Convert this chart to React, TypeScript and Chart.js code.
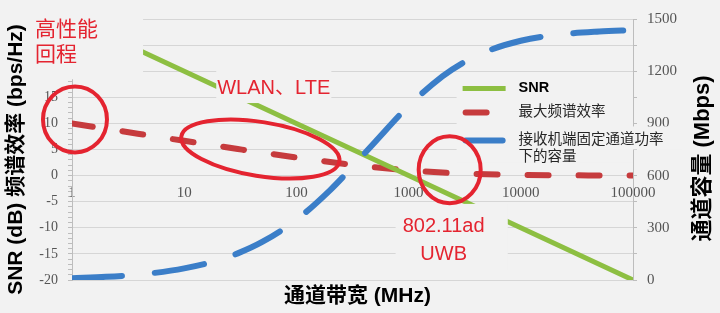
import React, { useEffect, useRef } from 'react';
import { Chart, registerables } from 'chart.js';

Chart.register(...registerables);

// ---------- data ----------
const bandwidthMHz = [1, 2, 3, 5, 10, 20, 30, 50, 100, 200, 300, 500, 1000, 2000, 3000, 5000, 10000, 20000, 50000, 100000];
const spectralEfficiency = [9.97, 8.97, 8.39, 7.65, 6.66, 5.67, 5.1, 4.39, 3.46, 2.59, 2.12, 1.58, 1.0, 0.58, 0.42, 0.26, 0.14, 0.07, 0.03, 0.01];
const capacityMbps = [10, 18, 25, 38, 67, 113, 153, 220, 346, 517, 635, 792, 1000, 1170, 1245, 1315, 1375, 1408, 1428, 1436];
const snrBandwidthMHz = [1, 10, 100, 1000, 10000, 100000];
const snrDb = [30, 20, 10, 0, -10, -20];

const xTickValues = [1, 10, 100, 1000, 10000, 100000];
const leftTickLabels = [-20, -15, -10, -5, 0, 5, 10, 15];
const rightTickLabels = [0, 300, 600, 900, 1200, 1500];

const seriesNames = ['SNR', '最大频谱效率', '接收机端固定通道功率\n下的容量'];
const leftTitle = 'SNR (dB) 频谱效率 (bps/Hz)';
const rightTitle = '通道容量 (Mbps)';
const bottomTitle = '通道带宽 (MHz)';

// annotations (data coordinates: bandwidth MHz, dB on left axis)
const noteTexts = [
  { bw: 0.467, db: 26.8, lines: ['高性能', '回程'], align: 'left' as CanvasTextAlign, size: 21, lh: 25 },
  { bw: 19.7, db: 15.6, lines: ['WLAN、LTE'], align: 'left' as CanvasTextAlign, size: 20, lh: 28 },
  { bw: 2053, db: -10.9, lines: ['802.11ad', 'UWB'], align: 'center' as CanvasTextAlign, size: 20, lh: 28 },
];
const noteBoxes = [
  { bw: [0.422, 4.3], db: [33.0, 18.45] },
  { bw: [19.3, 205], db: [20.5, 13.9] },
  { bw: [766, 7656], db: [-5.42, -18.1] },
];
const noteEllipses = [
  { bw: 1.063, db: 10.77, rx: 32, ry: 33, rot: 0 },
  { bw: 47.7, db: 5.09, rx: 80, ry: 27, rot: 9 },
  { bw: 2323, db: 1.12, rx: 31, ry: 33.5, rot: 0 },
];
const legendAnchor = { bw: 3030, db: 16.7 };

// ---------- styles ----------
const BG = '#f2f2f2';
const GRID = '#d6d6d6';
const AXIS = '#bdbdbd';
const TICK = '#555555';
const GREEN = '#8dbf42';
const RED = '#c63b3d';
const BLUE = '#3b7ec8';
const MARK = '#e42430';
const SANS = '"Liberation Sans", "Noto Sans CJK SC", sans-serif';
const SERIF = '"Liberation Serif", serif';

const overlayPlugin = {
  id: 'overlayNotes',
  afterDatasetsDraw(chart: any) {
    const ctx: CanvasRenderingContext2D = chart.ctx;
    const xs = chart.scales.x;
    const ys = chart.scales.y;
    const px = (v: number) => xs.getPixelForValue(v);
    const py = (v: number) => ys.getPixelForValue(v);
    const area = chart.chartArea;
    ctx.save();

    // text boxes (cover lines behind)
    ctx.fillStyle = BG;
    for (const b of noteBoxes) {
      const x0 = px(b.bw[0]);
      const x1 = px(b.bw[1]);
      const y0 = py(b.db[0]);
      const y1 = py(b.db[1]);
      ctx.fillRect(x0, y0, x1 - x0, y1 - y0);
    }

    // legend
    const lx = px(legendAnchor.bw);
    const ly = py(legendAnchor.db);
    ctx.fillStyle = BG;
    ctx.fillRect(lx - 6, ly - 12, area.right - (lx - 6), 86);
    ctx.fillRect(lx + 53, ly + 38, 167, 23);
    const rowOffsets = [0, 24, 52];
    chart.data.datasets.forEach((ds: any, i: number) => {
      const y = ly + rowOffsets[i];
      ctx.save();
      ctx.beginPath();
      ctx.strokeStyle = ds.borderColor;
      ctx.lineWidth = ds.borderWidth;
      ctx.lineCap = ds.borderCapStyle || 'butt';
      ctx.setLineDash(ds.borderDash || []);
      ctx.moveTo(lx + (ds.borderCapStyle === 'round' ? 3 : 0), y);
      ctx.lineTo(lx + 43 - (ds.borderCapStyle === 'round' ? 3 : 0), y);
      ctx.stroke();
      ctx.restore();
      const lines = String(ds.label).split('\n');
      ctx.textBaseline = 'middle';
      ctx.textAlign = 'left';
      ctx.fillStyle = i === 0 ? '#000000' : '#262626';
      ctx.font = (i === 0 ? 'bold ' : '') + '14.5px ' + SANS;
      lines.forEach((t, k) => ctx.fillText(t, lx + 56, y + k * 17));
    });

    // annotation texts
    ctx.fillStyle = MARK;
    ctx.textBaseline = 'alphabetic';
    for (const n of noteTexts) {
      ctx.font = n.size + 'px ' + SANS;
      ctx.textAlign = n.align;
      n.lines.forEach((t, k) => ctx.fillText(t, px(n.bw), py(n.db) + k * n.lh));
    }

    // ellipses
    ctx.strokeStyle = MARK;
    ctx.lineWidth = 4;
    for (const e of noteEllipses) {
      ctx.beginPath();
      ctx.ellipse(px(e.bw), py(e.db), e.rx, e.ry, (e.rot * Math.PI) / 180, 0, Math.PI * 2);
      ctx.stroke();
    }
    ctx.restore();
  },
  afterDraw(chart: any) {
    const ctx: CanvasRenderingContext2D = chart.ctx;
    const area = chart.chartArea;
    const midY = (area.top + area.bottom) / 2 + 10;
    ctx.save();
    ctx.fillStyle = '#000000';
    ctx.textAlign = 'center';
    ctx.textBaseline = 'middle';
    // left title
    ctx.font = 'bold 21px ' + SANS;
    ctx.save();
    ctx.translate(16, midY);
    ctx.rotate(-Math.PI / 2);
    ctx.fillText(leftTitle, 0, 0);
    ctx.restore();
    // right title
    ctx.font = 'bold 22px ' + SANS;
    ctx.save();
    ctx.translate(chart.width - 17, midY - 1);
    ctx.rotate(-Math.PI / 2);
    ctx.fillText(rightTitle, 0, 0);
    ctx.restore();
    // bottom title
    ctx.font = 'bold 21px ' + SANS;
    ctx.fillText(bottomTitle, (area.left + area.right) / 2 + 5, chart.height - 17);
    ctx.restore();
  },
};

export default function App() {
  const canvasRef = useRef<HTMLCanvasElement | null>(null);

  useEffect(() => {
    document.body.style.margin = '0';
    const canvas = canvasRef.current;
    if (!canvas) return;
    const chart = new Chart(canvas, {
      type: 'line',
      data: {
        datasets: [
          {
            label: seriesNames[0],
            data: snrBandwidthMHz.map((x, i) => ({ x, y: snrDb[i] })),
            yAxisID: 'y',
            borderColor: GREEN,
            backgroundColor: GREEN,
            borderWidth: 5,
            pointRadius: 0,
            tension: 0,
            order: 1,
          },
          {
            label: seriesNames[1],
            data: bandwidthMHz.map((x, i) => ({ x, y: spectralEfficiency[i] })),
            yAxisID: 'y',
            borderColor: RED,
            backgroundColor: RED,
            borderWidth: 6,
            borderDash: [21, 30],
            borderCapStyle: 'round',
            pointRadius: 0,
            cubicInterpolationMode: 'monotone',
            order: 2,
          },
          {
            label: seriesNames[2],
            data: bandwidthMHz.map((x, i) => ({ x, y: capacityMbps[i] })),
            yAxisID: 'y2',
            borderColor: BLUE,
            backgroundColor: BLUE,
            borderWidth: 6,
            borderDash: [50, 33],
            borderCapStyle: 'round',
            pointRadius: 0,
            cubicInterpolationMode: 'monotone',
            order: 0,
          },
        ] as any,
      },
      options: {
        animation: false,
        responsive: true,
        maintainAspectRatio: false,
        layout: { padding: { top: 16, bottom: 33, left: 0, right: 0 } },
        plugins: {
          legend: { display: false },
          tooltip: { enabled: false },
          title: { display: false },
        },
        scales: {
          x: {
            type: 'logarithmic',
            min: 1,
            max: 100000,
            position: { y: 0 } as any,
            grid: { display: false, drawTicks: false },
            border: { display: true, color: GRID },
            ticks: {
              autoSkip: false,
              maxRotation: 0,
              padding: 8,
              color: TICK,
              font: { family: SERIF, size: 15 },
              callback: (value: any) => {
                const v = Number(value);
                const hit = xTickValues.find((t) => Math.abs(t - v) / t < 1e-6);
                return hit !== undefined ? String(hit) : '';
              },
            },
          },
          y: {
            type: 'linear',
            position: 'left',
            min: -20,
            max: 30,
            afterFit: (s: any) => {
              s.width = 72;
            },
            grid: {
              color: (c: any) => (c.tick && Math.round(c.tick.value) % 5 === 0 ? GRID : 'rgba(0,0,0,0)'),
              tickColor: AXIS,
              tickLength: 4,
              drawTicks: true,
            },
            border: { display: true, color: AXIS },
            ticks: {
              stepSize: 1,
              autoSkip: false,
              padding: 10,
              color: TICK,
              font: { family: SERIF, size: 14 },
              callback: (value: any) => {
                const v = Math.round(Number(value));
                return leftTickLabels.includes(v) ? String(v) : '';
              },
            },
          },
          y2: {
            type: 'linear',
            position: 'right',
            min: 0,
            max: 1500,
            afterFit: (s: any) => {
              s.width = 87;
            },
            grid: { drawOnChartArea: false, tickColor: AXIS, tickLength: 4, drawTicks: true },
            border: { display: true, color: AXIS },
            ticks: {
              stepSize: 150,
              autoSkip: false,
              padding: 10,
              color: TICK,
              font: { family: SERIF, size: 15 },
              callback: (value: any) => {
                const v = Math.round(Number(value));
                return rightTickLabels.includes(v) ? String(v) : '';
              },
            },
          },
        } as any,
      },
      plugins: [overlayPlugin],
    });
    return () => chart.destroy();
  }, []);

  return (
    <div style={{ position: 'relative', width: 720, height: 313, background: BG }}>
      <canvas ref={canvasRef} />
    </div>
  );
}
